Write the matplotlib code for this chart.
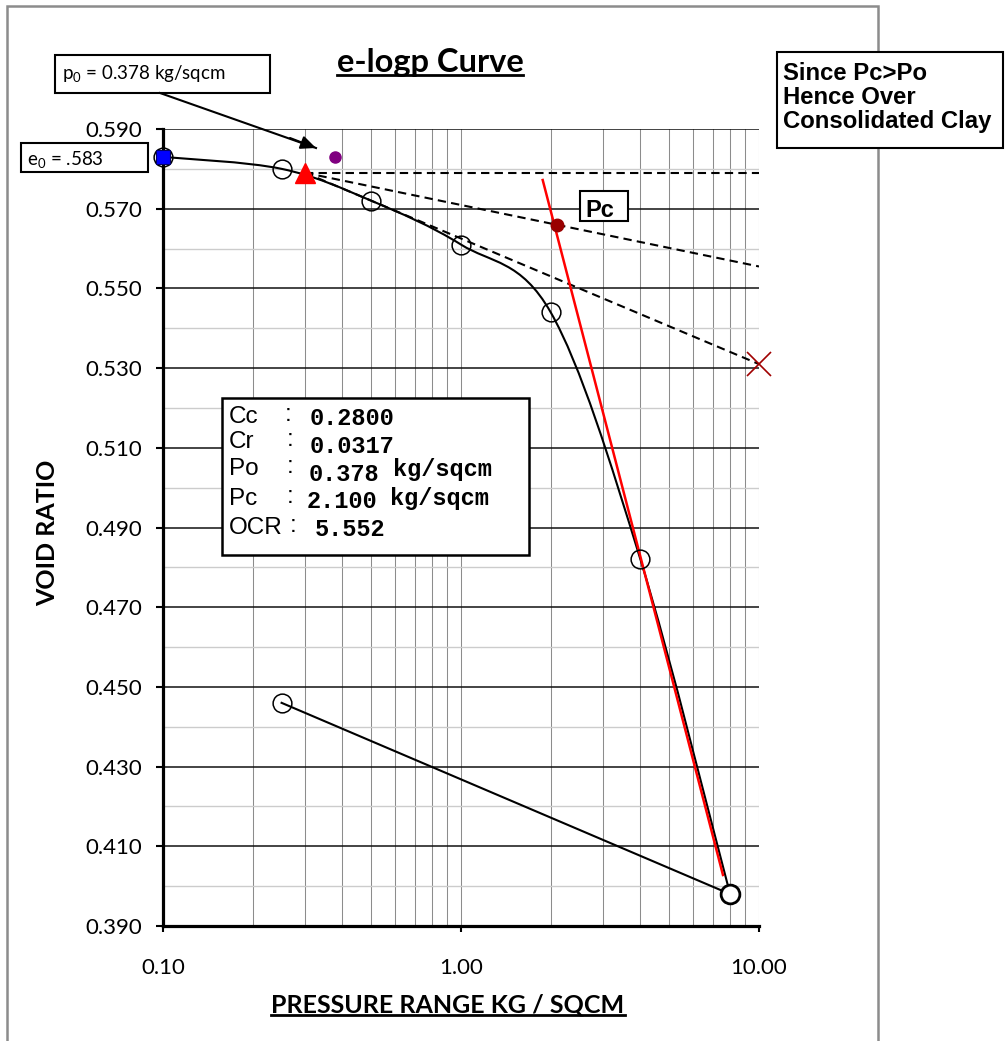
import numpy as np
import matplotlib
matplotlib.use("Agg")
import matplotlib.pyplot as plt
from matplotlib.path import Path
from matplotlib.patches import PathPatch, Rectangle
from matplotlib.lines import Line2D
from matplotlib.transforms import IdentityTransform
from matplotlib.ticker import MultipleLocator, LogLocator, FormatStrFormatter, NullFormatter

plt.rcParams['mathtext.fontset'] = 'custom'
plt.rcParams['mathtext.rm'] = 'Lato'

# consolidation test: loading branch and unloading branch
p_load = [0.1, 0.25, 0.5, 1.0, 2.0, 4.0, 8.0]
e_load = [0.583, 0.580, 0.572, 0.561, 0.544, 0.482, 0.398]
p_unload = [8.0, 0.25]
e_unload = [0.398, 0.446]

# construction points
p_start, e_start = 0.1, 0.583          # e0 at first reading
p_tri, e_tri = 0.30, 0.579             # point of max curvature
p_0, e_0 = 0.378, 0.583                # overburden pressure
p_c, e_c = 2.1, 0.566                  # preconsolidation pressure
p_end = 10.0
e_horiz_end = 0.579
e_bisect_end = 0.5555
e_tangent_end = 0.531
p_cc = [1.88, 7.57]                    # virgin compression line
e_cc = [0.5772, 0.4028]

stat_labels = ['Cc', 'Cr', 'Po', 'Pc', 'OCR']
stat_values = ['0.2800', '0.0317', '0.378', '2.100', '5.552']
stat_units = ['', '', 'kg/sqcm', 'kg/sqcm', '']

W, H = 1008, 1041
def fx(x):
    return x / W
def fy(y):
    return 1 - y / H

fig = plt.figure(figsize=(W / 100, H / 100), dpi=100)
ax = fig.add_axes([fx(163), fy(926), 596 / W, 797 / H])

ax.set_xscale('log')
ax.set_xlim(0.1, 10)
ax.set_ylim(0.39, 0.59)
ax.yaxis.set_major_locator(MultipleLocator(0.02, offset=0.01))
ax.yaxis.set_minor_locator(MultipleLocator(0.01))
ax.yaxis.set_major_formatter(FormatStrFormatter('%.3f'))
ax.xaxis.set_major_locator(LogLocator(base=10))
ax.xaxis.set_minor_locator(LogLocator(base=10, subs=np.arange(2, 10)))
ax.xaxis.set_major_formatter(FormatStrFormatter('%.2f'))
ax.xaxis.set_minor_formatter(NullFormatter())

ax.set_axisbelow(True)
ax.yaxis.grid(True, which='major', color='#111111', lw=1.1)
ax.yaxis.grid(True, which='minor', color='#cccccc', lw=1.0)
ax.xaxis.grid(True, which='both', color='#8c8c8c', lw=0.75)
for s in ['top', 'right']:
    ax.spines[s].set_visible(False)
for s in ['left', 'bottom']:
    ax.spines[s].set_linewidth(2.3)
ax.tick_params(axis='y', which='major', length=5, width=1.5, pad=10,
               labelsize=16, labelfontfamily='Lato')
ax.tick_params(axis='x', which='major', length=4, width=1.5, pad=19,
               labelsize=16, labelfontfamily='Lato')
ax.tick_params(which='minor', length=0)


def smooth_path(xs, ys):
    # cubic Bezier through the points, built in log-x space
    pts = np.column_stack([np.log10(xs), ys])
    n = len(pts)
    verts = [pts[0]]
    codes = [Path.MOVETO]
    for i in range(n - 1):
        a = pts[max(i - 1, 0)]
        b = pts[i]
        c = pts[i + 1]
        d = pts[min(i + 2, n - 1)]
        verts += [b + (c - a) / 6, c - (d - b) / 6, c]
        codes += [Path.CURVE4] * 3
    verts = np.array(verts)
    verts[:, 0] = 10 ** verts[:, 0]
    return Path(verts, codes)


ax.add_patch(PathPatch(smooth_path(p_load, e_load), fill=False,
                       ec='black', lw=1.5, zorder=3))
ax.plot(p_unload, e_unload, color='black', lw=1.5, zorder=3)

dash = (0, (4, 2.5))
ax.plot([p_tri, p_end], [e_tri, e_horiz_end], color='black', lw=1.5, ls=dash, zorder=3)
ax.plot([p_tri, p_end], [e_tri, e_bisect_end], color='black', lw=1.5, ls=dash, zorder=3)
ax.plot([p_tri, p_end], [e_tri, e_tangent_end], color='black', lw=1.5, ls=dash, zorder=3)
ax.plot(p_cc, e_cc, color='red', lw=1.8, zorder=4)

ax.plot(p_load, e_load, ls='none', marker='o', ms=13.5, mfc='none',
        mec='black', mew=1.1, zorder=5, clip_on=False)
ax.plot(p_unload[1:], e_unload[1:], ls='none', marker='o', ms=13.5, mfc='none',
        mec='black', mew=1.1, zorder=5, clip_on=False)
ax.plot(p_unload[:1], e_unload[:1], ls='none', marker='o', ms=13.5, mfc='white',
        mec='black', mew=2.0, zorder=5, clip_on=False)
ax.plot([p_start], [e_start], ls='none', marker='s', ms=9.5, mfc='#0000ff',
        mec='#00006a', mew=0.8, zorder=6, clip_on=False)
ax.plot([p_tri], [e_tri], ls='none', marker='^', ms=15, color='red',
        zorder=6, clip_on=False)
ax.plot([p_0], [e_0], ls='none', marker='o', ms=8, color='#800080',
        zorder=6, clip_on=False)
ax.plot([p_c], [e_c], ls='none', marker='o', ms=9, color='#990000',
        zorder=6, clip_on=False)
ax.plot([p_end], [e_tangent_end], ls='none', marker='x', ms=17, mew=1.2,
        color='#a00000', zorder=6, clip_on=False)

# outer chart frame
fig.add_artist(Rectangle((fx(7), fy(1060)), (878 - 7) / W, (1060 - 6) / H,
                         transform=fig.transFigure, fill=False,
                         ec='#8c8c8c', lw=1.8, zorder=1))


def box(x0, y0, x1, y1, lw=1.5):
    fig.add_artist(Rectangle((fx(x0), fy(y1)), (x1 - x0) / W, (y1 - y0) / H,
                             transform=fig.transFigure, fc='white',
                             ec='black', lw=lw, zorder=2))


def label(x, y, s, **kw):
    return fig.text(fx(x), fy(y), s, va='baseline', ha='left', zorder=3, **kw)


box(55, 55, 270, 93)
label(62, 80, r'p$_\mathrm{0}$ = 0.378 kg/sqcm', family='Lato', fontsize=13.5)
box(21, 143, 148, 172)
label(27, 166, r'e$_\mathrm{0}$ = .583', family='Lato', fontsize=13.5)

fig.add_artist(Line2D([fx(160), fx(316)], [fy(93), fy(148)], transform=fig.transFigure,
                      color='black', lw=1.5, zorder=3))
ax.annotate('', xy=(fx(316), fy(148)), xycoords='figure fraction',
            xytext=(fx(290), fy(138)), textcoords='figure fraction',
            arrowprops=dict(arrowstyle='-|>,head_length=0.9,head_width=0.4',
                            color='black', lw=1.5, shrinkA=0, shrinkB=0),
            annotation_clip=False)

box(777, 52, 1003, 148)
for i, line in enumerate(['Since Pc>Po', 'Hence Over', 'Consolidated Clay']):
    label(783, 80 + i * 24, line, family='Liberation Sans', fontsize=17.2,
          fontweight='bold')

box(580, 191, 628, 221)
label(585, 217, 'Pc', family='Liberation Sans', fontsize=17, fontweight='bold')

box(222, 398, 529, 555, lw=1.8)
lab_y = [423, 448, 475, 505, 534]
num_y = [425, 453, 481, 508, 536]
num_x = [310, 310, 309, 307, 315]
col_x = [285, 287, 287, 287, 290]
unit_x = [0, 0, 393, 390, 0]
unit_y = [0, 0, 476, 505, 0]
for i in range(len(stat_labels)):
    label(229, lab_y[i], stat_labels[i], family='Liberation Sans', fontsize=17.5)
    label(col_x[i], lab_y[i] - 2, ':', family='Liberation Sans', fontsize=17.5)
    label(num_x[i], num_y[i], stat_values[i], family='Liberation Mono',
          fontsize=17, fontweight='bold')
    if stat_units[i]:
        label(unit_x[i], unit_y[i], stat_units[i], family='Liberation Mono',
              fontsize=17, fontweight='bold')

title = fig.text(fx(430), fy(72), 'e-logp Curve', ha='center', va='baseline',
                 family='Lato', fontweight='bold', fontsize=23.5)
xlab = fig.text(fx(448), fy(1012), 'PRESSURE RANGE KG / SQCM', ha='center',
                va='baseline', family='Lato', fontweight='bold', fontsize=18)
fig.text(fx(48), fy(533), 'VOID RATIO', ha='center', va='center', rotation=90,
         family='Lato', fontweight='bold', fontsize=18)

# underline the title and the x label
fig.canvas.draw()
renderer = fig.canvas.get_renderer()
for t, base in [(title, 72), (xlab, 1012)]:
    bb = t.get_window_extent(renderer)
    yb = H - base - 3
    fig.add_artist(Line2D([bb.x0, bb.x1], [yb, yb], transform=IdentityTransform(),
                          color='black', lw=2.0))

fig.savefig('out.png', dpi=100)
